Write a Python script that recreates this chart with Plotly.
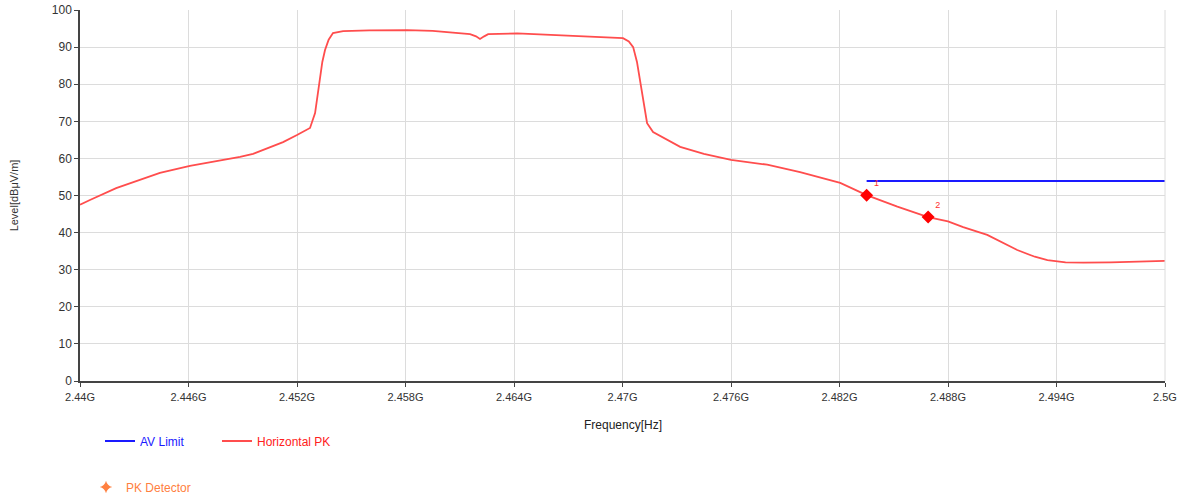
import plotly.graph_objects as go

# Horizontal PK trace (frequency in GHz, level in dBµV/m)
pk_freq_ghz = [2.4400, 2.44055, 2.4420, 2.44442, 2.44608, 2.4475, 2.44885, 2.44957, 2.4504, 2.45123,
               2.4520, 2.45272, 2.4530, 2.45315, 2.45327, 2.45340, 2.45355, 2.45375, 2.45399, 2.45455,
               2.4560, 2.45809, 2.4595, 2.4603, 2.46157, 2.46190, 2.46212, 2.46235, 2.46257, 2.46417,
               2.4660, 2.46765, 2.4690, 2.47003, 2.47035, 2.47059, 2.47080, 2.47097, 2.47115, 2.47136,
               2.47169, 2.47230, 2.47319, 2.4745, 2.4760, 2.4780, 2.47982, 2.48204, 2.4835, 2.4852,
               2.4869, 2.4880, 2.48884, 2.49017, 2.4910, 2.49183, 2.4928, 2.4935, 2.4945, 2.4955,
               2.4970, 2.4985, 2.5000]
pk_level = [47.5, 48.8, 52.0, 56.1, 58.0, 59.2, 60.4, 61.2, 62.8, 64.4,
            66.3, 68.2, 72.2, 77.0, 82.0, 86.0, 89.2, 92.0, 93.8, 94.3,
            94.5, 94.6, 94.4, 94.1, 93.5, 92.9, 92.2, 92.9, 93.5, 93.7,
            93.3, 93.0, 92.8, 92.4, 91.5, 90.0, 86.0, 81.1, 75.0, 69.5,
            67.1, 65.5, 63.1, 61.2, 59.6, 58.3, 56.3, 53.4, 50.1, 47.0,
            44.2, 43.0, 41.5, 39.4, 37.3, 35.3, 33.5, 32.6, 32.0, 31.9,
            32.0, 32.2, 32.4]

# AV limit line
av_freq_ghz = [2.4835, 2.5000]
av_level = [53.9, 53.9]

# PK detector markers
mk_freq_ghz = [2.4835, 2.4869]
mk_level = [50.1, 44.2]
mk_labels = ["1", "2"]

# Axis ticks
x_tick_ghz = [2.44, 2.446, 2.452, 2.458, 2.464, 2.47, 2.476, 2.482, 2.488, 2.494, 2.5]
x_tick_text = ["2.44G", "2.446G", "2.452G", "2.458G", "2.464G", "2.47G", "2.476G",
               "2.482G", "2.488G", "2.494G", "2.5G"]

W, H = 1185, 495
M_L, M_R, M_T, M_B = 80, 20, 10, 114
PLOT_H = H - M_T - M_B
G = 1e9
fig = go.Figure()
fig.add_trace(go.Scatter(
    x=[f * G for f in av_freq_ghz], y=av_level, mode="lines",
    line=dict(color="#1a1aff", width=2),
    name="<span style='color:#1a1aff'>AV Limit</span>", legend="legend"))
fig.add_trace(go.Scatter(
    x=[f * G for f in pk_freq_ghz], y=pk_level, mode="lines",
    line=dict(color="#ff4d4d", width=1.8),
    name="<span style='color:#ff2020'>Horizontal PK</span>", legend="legend"))
fig.add_trace(go.Scatter(
    x=[f * G for f in mk_freq_ghz], y=mk_level, mode="markers+text",
    marker=dict(symbol="diamond", size=10, color="#ff0000"),
    text=mk_labels, textposition="top right",
    textfont=dict(color="#ff3030", size=9, family="Liberation Sans"),
    showlegend=False))
# legend-only entry for PK Detector
fig.add_trace(go.Scatter(
    x=[None], y=[None], mode="markers",
    marker=dict(symbol="star-diamond", size=9, color="#ff8040"),
    name="<span style='color:#ff8040'>PK Detector</span>", legend="legend2"))

fig.update_layout(
    width=W, height=H,
    margin=dict(l=M_L, r=M_R, t=M_T, b=M_B, autoexpand=False),
    plot_bgcolor="white", paper_bgcolor="white",
    font=dict(family="Liberation Sans", size=11, color="#333333"),
    legend=dict(orientation="h", xref="container", yref="container",
                x=100 / W, xanchor="left", y=1 - 441 / H, yanchor="middle",
                font=dict(size=12), bgcolor="rgba(0,0,0,0)",
                entrywidth=72, entrywidthmode="pixels", tracegroupgap=0),
    legend2=dict(orientation="h", xref="container", yref="container",
                 x=86 / W, xanchor="left", y=1 - 487 / H, yanchor="middle",
                 font=dict(size=12), bgcolor="rgba(0,0,0,0)"),
    xaxis=dict(range=[2.44 * G, 2.5 * G], tickvals=[t * G for t in x_tick_ghz],
               ticktext=x_tick_text, showgrid=True, gridcolor="#dcdcdc",
               showline=True, linecolor="#444444", linewidth=1.5,
               ticks="outside", ticklen=4, tickcolor="#444444", ticklabelstandoff=1,
               tickfont=dict(size=11, color="#333333"), automargin=False,
               zeroline=False, mirror=False),
    yaxis=dict(range=[0, 100], dtick=10, tick0=0, showgrid=True, gridcolor="#dcdcdc",
               showline=True, linecolor="#444444", linewidth=1.5,
               ticks="outside", ticklen=4, tickcolor="#444444",
               tickfont=dict(size=12, color="#333333"), automargin=False,
               title=dict(text="Level[dBμV/m]", font=dict(size=11, color="#333333"), standoff=31),
               zeroline=False),
    annotations=[dict(text="Frequency[Hz]", xref="paper", x=0.5, xanchor="center",
                      yref="paper", y=-(425 - (H - M_B)) / PLOT_H, yanchor="middle",
                      showarrow=False, font=dict(size=12, color="#222222"))],
)
# right border gridline
fig.add_shape(type="line", xref="paper", yref="paper", x0=1, x1=1, y0=0, y1=1,
              line=dict(color="#dcdcdc", width=1))

# remove the default page body margin so the figure sits at the window origin
fig.write_html("out.html", config={"displayModeBar": False},
               post_script="document.body.style.margin='0px';document.body.style.padding='0px';")
